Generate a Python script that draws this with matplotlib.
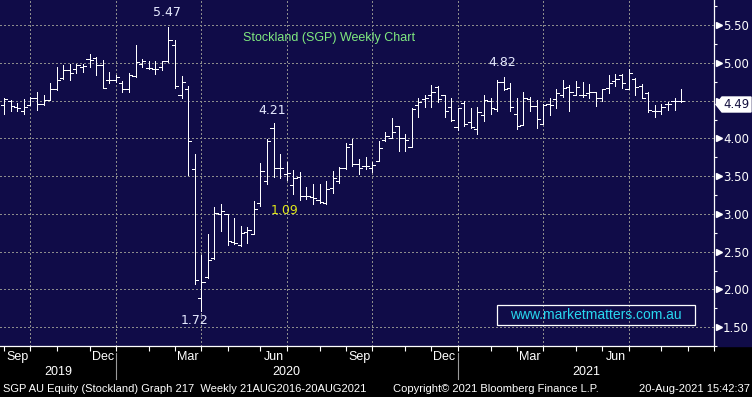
import numpy as np
import pandas as pd
import matplotlib
matplotlib.use('Agg')
import matplotlib.pyplot as plt
import matplotlib.transforms as mtrans
import matplotlib.dates as mdates
from matplotlib.patches import Rectangle, Polygon

# ---------------- data (weekly OHLC, Stockland SGP) ----------------
opens = [4.44, 4.49, 4.41, 4.36, 4.44, 4.53, 4.45, 4.51, 4.65, 4.80,
         4.90, 4.92, 4.95, 5.05, 5.06, 4.97, 4.78, 4.77, 4.73, 4.66,
         4.83, 4.99, 4.93, 4.92, 4.95, 5.03, 5.24, 4.58, 4.65, 3.60,
         1.89, 2.16, 2.41, 3.00, 3.00, 2.63, 2.59, 2.76, 2.73, 3.15,
         3.43, 4.14, 3.61, 3.53, 3.38, 3.49, 3.24, 3.22, 3.19, 3.15,
         3.34, 3.43, 3.61, 3.92, 3.66, 3.64, 3.61, 3.70, 3.98, 4.00,
         4.16, 4.00, 3.89, 4.44, 4.52, 4.58, 4.68, 4.57, 4.42, 4.15,
         4.47, 4.22, 4.13, 4.31, 4.50, 4.39, 4.75, 4.67, 4.32, 4.18,
         4.52, 4.43, 4.19, 4.45, 4.52, 4.57, 4.68, 4.57, 4.58, 4.60,
         4.61, 4.54, 4.67, 4.76, 4.84, 4.66, 4.79, 4.70, 4.60, 4.36,
         4.37, 4.45, 4.49, 4.50]
highs = [4.53, 4.51, 4.47, 4.52, 4.55, 4.61, 4.57, 4.73, 4.95, 4.97,
         4.99, 4.98, 4.99, 5.12, 5.08, 5.04, 4.88, 4.84, 4.76, 4.87,
         5.24, 5.05, 5.02, 5.03, 5.03, 5.47, 5.31, 4.83, 4.70, 3.80,
         2.46, 2.74, 3.09, 3.13, 3.00, 2.95, 2.84, 2.82, 3.17, 3.68,
         3.99, 4.21, 3.80, 3.69, 3.58, 3.55, 3.35, 3.39, 3.39, 3.44,
         3.57, 3.62, 3.94, 3.99, 3.73, 3.76, 3.69, 3.96, 4.09, 4.27,
         4.16, 4.06, 4.40, 4.53, 4.58, 4.71, 4.70, 4.58, 4.54, 4.40,
         4.49, 4.40, 4.42, 4.57, 4.53, 4.78, 4.82, 4.73, 4.53, 4.61,
         4.55, 4.51, 4.45, 4.53, 4.66, 4.77, 4.71, 4.76, 4.75, 4.72,
         4.61, 4.66, 4.84, 4.86, 4.86, 4.92, 4.80, 4.72, 4.61, 4.44,
         4.45, 4.48, 4.53, 4.66]
lows = [4.33, 4.37, 4.36, 4.33, 4.44, 4.38, 4.44, 4.51, 4.64, 4.79,
        4.78, 4.87, 4.88, 4.95, 4.84, 4.67, 4.73, 4.75, 4.62, 4.62,
        4.82, 4.94, 4.92, 4.86, 4.90, 5.01, 4.67, 4.54, 3.51, 2.07,
        1.72, 2.15, 2.40, 2.78, 2.59, 2.60, 2.57, 2.62, 2.73, 3.10,
        3.39, 3.49, 3.48, 3.45, 3.27, 3.19, 3.20, 3.13, 3.15, 3.13,
        3.28, 3.41, 3.59, 3.64, 3.53, 3.59, 3.56, 3.70, 3.97, 4.00,
        3.84, 3.83, 3.88, 4.29, 4.42, 4.42, 4.48, 4.29, 4.23, 4.11,
        4.17, 4.14, 4.06, 4.23, 4.32, 4.36, 4.64, 4.37, 4.12, 4.18,
        4.37, 4.14, 4.19, 4.31, 4.40, 4.55, 4.36, 4.57, 4.55, 4.53,
        4.43, 4.49, 4.60, 4.69, 4.67, 4.65, 4.58, 4.53, 4.35, 4.28,
        4.33, 4.38, 4.38, 4.48]
closes = [4.52, 4.43, 4.40, 4.41, 4.53, 4.45, 4.51, 4.65, 4.77, 4.90,
          4.87, 4.97, 4.96, 5.04, 4.97, 4.67, 4.78, 4.81, 4.66, 4.84,
          5.01, 5.02, 4.93, 4.92, 5.02, 5.31, 4.69, 4.75, 3.97, 2.12,
          2.10, 2.39, 3.01, 3.04, 2.64, 2.61, 2.75, 2.79, 3.06, 3.57,
          3.97, 3.61, 3.61, 3.54, 3.48, 3.24, 3.24, 3.21, 3.16, 3.33,
          3.48, 3.61, 3.89, 3.66, 3.61, 3.63, 3.65, 3.87, 4.03, 4.09,
          4.01, 3.98, 4.39, 4.48, 4.54, 4.61, 4.52, 4.37, 4.24, 4.40,
          4.19, 4.15, 4.35, 4.51, 4.40, 4.75, 4.66, 4.41, 4.16, 4.53,
          4.43, 4.26, 4.44, 4.44, 4.60, 4.67, 4.61, 4.68, 4.57, 4.61,
          4.53, 4.66, 4.74, 4.79, 4.74, 4.87, 4.68, 4.53, 4.38, 4.37,
          4.42, 4.46, 4.50, 4.49]
week_end = pd.date_range('2019-08-30', periods=len(closes), freq='W-FRI')

y_ticks = [1.50, 2.00, 2.50, 3.00, 3.50, 4.00, 4.50, 5.00, 5.50]
quarter_months = ['Sep', 'Dec', 'Mar', 'Jun', 'Sep', 'Dec', 'Mar', 'Jun']
year_labels = ['2019', '2020', '2021']
title = 'Stockland (SGP) Weekly Chart'
footer_left = 'SGP AU Equity (Stockland) Graph 217  Weekly 21AUG2016-20AUG2021'
footer_mid = 'Copyright\u00a9 2021 Bloomberg Finance L.P.'
footer_right = '20-Aug-2021 15:42:37'
watermark = 'www.marketmatters.com.au'
extra_label = '1.09'

# ---------------- style ----------------
NAVY = '#100c48'
GRID = '#8c8c8c'
LAB = '#e6eaff'
W, H = 752, 397
SANS = ['Liberation Sans', 'DejaVu Sans']


def fx(p):
    return p / W


def fy(p):
    return 1 - p / H


fig = plt.figure(figsize=(W / 100, H / 100), dpi=100, facecolor='black')
fig.patches.append(Rectangle((fx(714), fy(346)), fx(38), 346 / H,
                             transform=fig.transFigure, color=NAVY, zorder=-5))
ax = fig.add_axes([0, fy(346), fx(714), 346 / H])
ax.set_zorder(2)
ax.set_facecolor(NAVY)

# month-end (last Friday) positions for ticks / quarter gridlines
month_ends = pd.date_range('2019-08-01', '2021-09-30', freq='ME')
last_fri = [d - pd.Timedelta(days=(d.weekday() - 4) % 7) for d in month_ends]
quarter_lines = [d for d in last_fri if d.month in (3, 6, 9, 12) and
                 pd.Timestamp('2019-09-01') <= d <= pd.Timestamp('2021-07-01')]

t0 = week_end[0]
ax.set_xlim(t0 - pd.Timedelta(days=4.4), t0 + pd.Timedelta(days=740.5))
ax.set_ylim(1.340, 5.834)

# gridlines
for yv in y_ticks:
    ax.axhline(yv, color=GRID, lw=0.75, ls=(0, (1, 2)), zorder=1, antialiased=False)
for d in quarter_lines:
    ax.axvline(d, color=GRID, lw=0.75, ls=(0, (1, 2)), zorder=1, antialiased=False)

# OHLC bars
tick_w = pd.Timedelta(days=3.4)
xs = week_end
ax.vlines(xs, lows, highs, color='white', lw=0.72, zorder=3, antialiased=False)
ax.hlines(opens, xs - tick_w, xs, color='white', lw=0.72, zorder=3, antialiased=False)
ax.hlines(closes, xs, xs + tick_w, color='white', lw=0.72, zorder=3, antialiased=False)

# spines
for s in ['top', 'left']:
    ax.spines[s].set_visible(False)
for s in ['right', 'bottom']:
    ax.spines[s].set_color('white')
    ax.spines[s].set_linewidth(0.9)

# y axis on right (the 4.50 label sits under the last-price flag)
last = closes[-1]
ax.yaxis.tick_right()
ax.set_yticks(y_ticks)
ax.set_yticklabels(['' if abs(v - last) < 0.05 else f'{v:.2f}' for v in y_ticks])
ax.set_yticks(np.arange(1.25, 5.8, 0.25), minor=True)
ax.tick_params(axis='y', which='major', length=0, pad=6.5, colors='white',
               labelsize=8.5)
ax.tick_params(axis='y', which='minor', length=2.5, width=0.8, colors='white',
               direction='out')
tri_tr = mtrans.blended_transform_factory(ax.transAxes, ax.transData)
ax.plot([1 + 5 / 714] * len(y_ticks), y_ticks, ls='none', marker='>',
        ms=4.5, color='white', mec='white', transform=tri_tr, clip_on=False, zorder=5)

# x axis ticks (month ends)
ax.set_xticks(last_fri)
ax.set_xticklabels([''] * len(last_fri))
ax.tick_params(axis='x', which='major', length=3.5, width=0.8, colors='white',
               direction='out')
ax.set_xticks([], minor=True)

lab_tr = mtrans.blended_transform_factory(ax.transData, fig.transFigure)
for d, m in zip(quarter_lines, quarter_months):
    ax.text(d - pd.Timedelta(days=14), fy(357), m, transform=lab_tr, ha='center',
            va='center', color='white', fontsize=9, family=SANS)

# year labels and separators
dec_lines = [d for d in quarter_lines if d.month == 12]
xmin, xmax = ax.get_xlim()
bounds = [xmin] + [mdates.date2num(d) for d in dec_lines] + [xmax]
for i, yl in enumerate(year_labels):
    ax.text((bounds[i] + bounds[i + 1]) / 2, fy(372), yl, transform=lab_tr,
            ha='center', va='center', color='white', fontsize=9, family=SANS)
for d in dec_lines:
    ax.plot([d, d], [fy(353), fy(379)], color='#9a9a9a', lw=0.8, transform=lab_tr,
            clip_on=False)


# annotations on extremes
def off(px):
    return px * 0.72


i_top = int(np.argmax(highs))
i_low = int(np.argmin(lows))
i_jun = 41
i_feb = 76
ax.annotate(f'{highs[i_top]:.2f}', xy=(xs[i_top], highs[i_top]), xytext=(off(-2), off(15)),
            textcoords='offset points', ha='center', va='center', color=LAB, fontsize=9)
ax.annotate(f'{highs[i_jun]:.2f}', xy=(xs[i_jun], highs[i_jun]), xytext=(off(-1), off(12)),
            textcoords='offset points', ha='center', va='center', color=LAB, fontsize=9)
ax.annotate(f'{lows[i_low]:.2f}', xy=(xs[i_low], lows[i_low]), xytext=(off(-7), off(-10)),
            textcoords='offset points', ha='center', va='center', color=LAB, fontsize=9)
ax.annotate(f'{highs[i_feb]:.2f}', xy=(xs[i_feb], highs[i_feb]), xytext=(off(-1), off(14)),
            textcoords='offset points', ha='center', va='center', color=LAB, fontsize=9)

ax.text(285 / 714, 1 - 211 / 346, extra_label, transform=ax.transAxes, ha='center',
        va='center', color='#e0e818', fontsize=9)

# title
ax.text(329 / 714, 1 - 38 / 346, title, transform=ax.transAxes, ha='center', va='center',
        color='#80ea80', fontsize=9, family=SANS)

# watermark box
ax.add_patch(Rectangle((497 / 714, 1 - 325 / 346), 198 / 714, 20 / 346,
                       transform=ax.transAxes, fill=False, ec='white', lw=0.9, zorder=6))
ax.text(596 / 714, 1 - 315 / 346, watermark, transform=ax.transAxes, ha='center',
        va='center', color='#28d8f0', fontsize=10, family=SANS, zorder=6)

# last price flag
fig.patches.append(Polygon([(fx(716), fy(104.5)), (fx(722), fy(97)), (fx(751), fy(97)),
                            (fx(751), fy(112)), (fx(722), fy(112))], closed=True,
                           transform=fig.transFigure, fc='white', ec='white', zorder=5))
fig.text(fx(737), fy(104.5), f'{last:.2f}', ha='center', va='center', color='#141040',
         fontsize=8.5, zorder=6)

# footer
fig.text(fx(3), fy(389), footer_left, ha='left', va='center', color='white',
         fontsize=8, family=SANS)
fig.text(fx(393), fy(389), footer_mid, ha='left', va='center', color='white',
         fontsize=8, family=SANS)
fig.text(fx(750), fy(389), footer_right, ha='right', va='center', color='white',
         fontsize=8, family=SANS)

fig.savefig('out.png', dpi=100, facecolor='black')
